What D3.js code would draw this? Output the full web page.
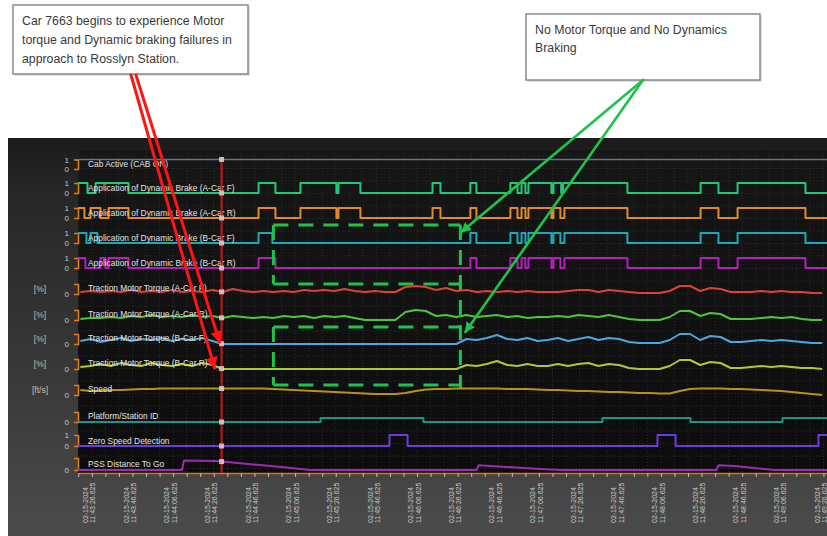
<!DOCTYPE html>
<html>
<head>
<meta charset="utf-8">
<script src="https://cdn.jsdelivr.net/npm/d3@7"></script>
<style>
  html, body { margin: 0; padding: 0; background: #ffffff; }
  svg { display: block; }
</style>
</head>
<body>
<svg id="chart" width="827" height="536"></svg>
<script>
// ---- Recorded event data (time in seconds from 11:43:26.625) ----
const tickTimes = [0, 20, 40, 60, 80, 100, 120, 140, 160, 180, 200, 220, 240, 260, 280, 300, 320, 340, 360];
const tickDate = "02-15-2024";
const tickClock = ["11:43:26.625", "11:43:46.625", "11:44:06.625", "11:44:26.625", "11:44:46.625",
  "11:45:06.625", "11:45:26.625", "11:45:46.625", "11:46:06.625", "11:46:26.625", "11:46:46.625",
  "11:47:06.625", "11:47:26.625", "11:47:46.625", "11:48:06.625", "11:48:26.625", "11:48:46.625",
  "11:49:06.625", "11:49:26.625"];

const seriesNames = [
  "Cab Active (CAB ON)",
  "Application of Dynamic Brake (A-Car F)",
  "Application of Dynamic Brake (A-Car R)",
  "Application of Dynamic Brake (B-Car F)",
  "Application of Dynamic Brake (B-Car R)",
  "Traction Motor Torque (A-Car F)",
  "Traction Motor Torque (A-Car R)",
  "Traction Motor Torque (B-Car F)",
  "Traction Motor Torque (B-Car R)",
  "Speed",
  "Platform/Station ID",
  "Zero Speed Detection",
  "PSS Distance To Go"
];

// digital channels: [time, state] change points
const cabActive = [[-7, 1], [363, 1]];
const brakeACarF = [[-7,1],[-1.5,0],[2.5,1],[18.7,0],[82.7,1],[91,0],[103.3,1],[121,0],[122,1],[132.8,0],[168.3,1],[172.2,0],[186.9,1],[189.9,0],[206.6,1],[210.1,0],[212.1,1],[214,0],[215.5,1],[226.8,0],[227.8,1],[231.6,0],[232.6,1],[264.2,0],[300.2,1],[309,0],[318.4,1],[351.8,0],[363,0]];
const brakeACarR = [[-7,1],[-3,0],[0,1],[4.9,0],[8.9,1],[18.7,0],[82.7,1],[91,0],[103.3,1],[121,0],[122,1],[132.8,0],[168.3,1],[172.2,0],[186.9,1],[189.9,0],[206.6,1],[210.1,0],[212.1,1],[214,0],[215.5,1],[226.8,0],[227.8,1],[231.2,0],[233.2,1],[264.2,0],[300.2,1],[309,0],[318.4,1],[351.8,0],[363,0]];
const brakeBCarF = [[-7,1],[-2,0],[0,1],[3.4,0],[82.7,1],[89.5,0],[186.9,1],[189.9,0],[206.6,1],[210.1,0],[212.1,1],[214,0],[215.5,1],[226.8,0],[227.8,1],[231.2,0],[233.2,1],[264.2,0],[300.2,1],[309,0],[318.4,1],[351.8,0],[363,0]];
const brakeBCarR = [[-7,1],[-2.5,0],[4.9,1],[7.4,0],[8.9,1],[18.7,0],[82.7,1],[91,0],[186.9,1],[189.9,0],[206.6,1],[210.1,0],[212.1,1],[214,0],[215.5,1],[226.8,0],[227.8,1],[231.2,0],[233.2,1],[264.2,0],[300.2,1],[309,0],[318.4,1],[351.8,0],[363,0]];
const platformStationId = [[-7,0],[113.2,4],[163.8,0],[251.9,4],[295.2,0],[340.5,4],[363,4]];
const zeroSpeedDetect = [[-7,0],[147.1,1],[156,0],[279,1],[287.9,0],[358.2,1],[363,1]];

// analog channels sampled every 5 s
const sampleTimes = [-5,0,5,10,15,20,25,30,35,40,45,50,55,60,65,70,75,80,85,90,95,100,105,110,115,120,125,130,135,140,145,150,155,160,165,170,175,180,185,190,195,200,205,210,215,220,225,230,235,240,245,250,255,260,265,270,275,280,285,290,295,300,305,310,315,320,325,330,335,340,345,350,355,360];
const torqueACarF = [8,12,8,12,8,16,8,12,8,16, 8,12,8,16,8,20,12,8,12,8, 12,8,16,12,16,12,20,12,8,12, 8,8,28,32,28,16,24,12,16,8, 12,8,12,8,12,8,8,8,12,16, 16,8,16,12,8,4,4,4,12,32, 32,12,24,20,8,8,8,12,8,12, 8,8,4,4];
const torqueACarR = [4,8,8,12,8,16,12,20,12,16, 12,20,12,16,8,16,12,8,12,8, 16,12,16,8,16,12,16,8,0,0, 0,0,32,40,36,16,20,12,20,12, 16,20,12,16,8,12,12,16,12,20, 16,12,20,12,4,0,0,0,12,36, 36,16,28,24,4,4,4,8,12,8, 12,4,0,0];
const torqueBCarF = [12,20,8,16,24,12,20,16,24,12, 20,16,24,12,0,0,0,0,0,0, 0,0,0,0,0,0,0,0,0,0, 0,0,0,0,0,0,0,0,20,16, 24,36,20,16,24,12,16,24,12,20, 28,16,24,20,8,4,4,4,16,40, 40,16,32,28,8,8,12,16,12,16, 12,8,4,4];
const torqueBCarR = [8,12,20,12,24,16,12,24,16,12, 20,12,24,16,0,0,0,0,0,0, 0,0,0,0,0,0,0,0,0,0, 0,0,0,0,0,0,0,0,16,12, 20,32,16,12,20,12,12,20,12,20, 24,12,20,16,4,0,0,0,12,36, 36,16,28,24,4,4,8,12,8,12, 8,4,4,0];
const speedFtS = [20,16,16,20,20,22,24,24,26,26, 26,26,26,26,26,26,26,26,26,24, 22,20,18,16,14,12,10,8,6,4, 4,4,8,16,22,24,24,26,26,26, 26,26,24,24,24,22,20,20,18,16, 16,14,12,12,10,8,8,6,6,16, 24,26,26,26,24,24,22,20,18,16, 12,8,4,0];
const pssDistanceToGo = [[-7,0],[45,0],[46,2000],[62,1850],[94,600],[108,0],[190,0],[191,1000],[221,200],[231,0],[308,0],[309,1000],[317,850],[336,0],[363,0]];

const eventTime = 64.5;
const noTractionWindow = [90, 182];
const noteFailure = ["Car 7663 begins to experience Motor", "torque and Dynamic braking failures in", "approach to Rosslyn Station."];
const noteNoBraking = ["No Motor Torque and No Dynamics", "Braking"];

// ---- Layout ----
const W = 827, H = 536;
const plot = { left: 78, right: 827, top: 150, bottom: 473 };
const svg = d3.select("#chart");
const defs = svg.append("defs");

const x = d3.scaleLinear().domain([-6.15, 362.4]).range([plot.left, plot.right]);
const zip = vals => vals.map((v, i) => [sampleTimes[i], v]);

const rows = [
  { name: seriesNames[0],  data: cabActive,  step: true, color: "#5a7896", zero: 169, top: 159.5, domain: [0, 1], ticks: [0, 1], sw: 1.6 },
  { name: seriesNames[1],  data: brakeACarF, step: true, color: "#22c97a", zero: 193, top: 183, domain: [0, 1], ticks: [0, 1] },
  { name: seriesNames[2],  data: brakeACarR, step: true, color: "#e08a2c", zero: 218, top: 208, domain: [0, 1], ticks: [0, 1] },
  { name: seriesNames[3],  data: brakeBCarF, step: true, color: "#1ea7b5", zero: 243, top: 233, domain: [0, 1], ticks: [0, 1] },
  { name: seriesNames[4],  data: brakeBCarR, step: true, color: "#b51fb5", zero: 268, top: 258, domain: [0, 1], ticks: [0, 1] },
  { name: seriesNames[5],  data: zip(torqueACarF), color: "#dc4238", zero: 294, top: 284, domain: [0, 40], ticks: [0], unit: "[%]" },
  { name: seriesNames[6],  data: zip(torqueACarR), color: "#4ec53a", zero: 320, top: 310, domain: [0, 40], ticks: [0], unit: "[%]" },
  { name: seriesNames[7],  data: zip(torqueBCarF), color: "#4da6e0", zero: 344, top: 334, domain: [0, 40], ticks: [0], unit: "[%]" },
  { name: seriesNames[8],  data: zip(torqueBCarR), color: "#a9cc36", zero: 369, top: 359, domain: [0, 40], ticks: [0], unit: "[%]" },
  { name: seriesNames[9],  data: zip(speedFtS),    color: "#b8911c", zero: 395, top: 385, domain: [0, 40], ticks: [0], unit: "[ft/s]" },
  { name: seriesNames[10], data: platformStationId, step: true, color: "#1c948e", zero: 422, top: 412, domain: [0, 10], ticks: [0] },
  { name: seriesNames[11], data: zeroSpeedDetect, step: true, color: "#6b3be3", zero: 446, top: 435, domain: [0, 1], ticks: [0, 1] },
  { name: seriesNames[12], data: pssDistanceToGo, color: "#9b2cb3", zero: 470, top: 458, domain: [0, 2500], ticks: [0] }
];
rows.forEach(r => { r.y = d3.scaleLinear().domain(r.domain).range([r.zero, r.top]); });

// ---- Panel background ----
const bg = defs.append("linearGradient").attr("id", "panelBg").attr("x1", 0).attr("y1", 0).attr("x2", 0).attr("y2", 1);
bg.append("stop").attr("offset", "0%").attr("stop-color", "#1b1b1b");
bg.append("stop").attr("offset", "12%").attr("stop-color", "#262626");
bg.append("stop").attr("offset", "60%").attr("stop-color", "#393939");
bg.append("stop").attr("offset", "100%").attr("stop-color", "#4b4b4b");
const plotBg = defs.append("linearGradient").attr("id", "plotBg").attr("x1", 0).attr("y1", 0).attr("x2", 0).attr("y2", 1);
plotBg.append("stop").attr("offset", "0%").attr("stop-color", "#161616");
plotBg.append("stop").attr("offset", "100%").attr("stop-color", "#0c0c0c");

defs.append("clipPath").attr("id", "plotClip").append("rect")
  .attr("x", plot.left).attr("y", plot.top).attr("width", plot.right - plot.left).attr("height", plot.bottom - plot.top + 2);

svg.append("rect").attr("x", 8).attr("y", 138).attr("width", W - 8).attr("height", H - 138).attr("fill", "url(#panelBg)");
svg.append("rect").attr("x", plot.left).attr("y", plot.top).attr("width", plot.right - plot.left)
  .attr("height", plot.bottom - plot.top).attr("fill", "url(#plotBg)");

// dotted grid
const minorTicks = d3.range(-6, 363, 20 / 3).filter(t => x(t) >= plot.left && x(t) <= plot.right);
const grid = svg.append("g").attr("stroke", "#2b2b2b").attr("stroke-width", 1).attr("stroke-dasharray", "1,2");
grid.selectAll("line.v").data(minorTicks).join("line").attr("class", "v")
  .attr("x1", d => x(d)).attr("x2", d => x(d)).attr("y1", plot.top).attr("y2", plot.bottom);
grid.selectAll("line.h").data(d3.range(plot.top + 6, plot.bottom, 12.5)).join("line").attr("class", "h")
  .attr("x1", plot.left).attr("x2", plot.right).attr("y1", d => d).attr("y2", d => d);

// ---- Per-channel axes and unit labels ----
rows.forEach(r => {
  const ax = svg.append("g").attr("transform", `translate(${plot.left},0)`)
    .call(d3.axisLeft(r.y).tickValues(r.ticks).tickSizeInner(3).tickSizeOuter(4).tickPadding(6).tickFormat(d3.format("d")));
  ax.select(".domain").attr("stroke", "#e07b1a").attr("stroke-width", 1.6);
  ax.selectAll(".tick line").attr("stroke", "#e07b1a");
  ax.selectAll(".tick text").attr("fill", "#c4c4c4").attr("font-size", 8).attr("font-family", "Liberation Sans, Arial, sans-serif");
  if (r.unit) {
    svg.append("text").attr("x", 40).attr("y", r.zero - 2).attr("text-anchor", "middle")
      .attr("font-family", "Liberation Sans, Arial, sans-serif").attr("font-size", 8.5).attr("fill", "#cbbfa6").text(r.unit);
  }
});

// ---- Time axis ----
const xAxis = svg.append("g").attr("transform", `translate(0,${plot.bottom})`)
  .call(d3.axisBottom(x).tickValues(minorTicks).tickSize(4).tickSizeOuter(0).tickFormat(""));
xAxis.select(".domain").attr("stroke", "#d9731f").attr("stroke-width", 1.6);
xAxis.selectAll(".tick line").attr("stroke", "#bdbdbd").attr("stroke-width", 1);

const tl = svg.append("g").attr("font-family", "Liberation Sans, Arial, sans-serif").attr("font-size", 7).attr("fill", "#c8c8c8");
tickTimes.forEach((t, i) => {
  const g = tl.append("text").attr("transform", `translate(${x(t)},523) rotate(-90)`).attr("text-anchor", "start");
  g.append("tspan").attr("x", 0).attr("y", -5).attr("dominant-baseline", "central").text(tickDate);
  g.append("tspan").attr("x", 0).attr("y", 2.5).attr("dominant-baseline", "central").text(tickClock[i]);
});

// ---- Traces ----
const traces = svg.append("g").attr("clip-path", "url(#plotClip)");
rows.forEach(r => {
  const line = d3.line().x(d => x(d[0])).y(d => r.y(d[1])).curve(r.step ? d3.curveStepAfter : d3.curveLinear);
  traces.append("path").datum(r.data).attr("d", line).attr("fill", "none")
    .attr("stroke", r.color).attr("stroke-width", r.sw || 2).attr("stroke-linejoin", "round");
});

// channel names
const names = svg.append("g").attr("font-family", "Liberation Sans, Arial, sans-serif").attr("font-size", 8.4).attr("fill", "#e4e4e4");
rows.forEach(r => {
  const digital = r.ticks.length === 2;
  const yy = digital ? (r.y(0) + r.y(1)) / 2 + 3 : r.y(0) - 3;
  names.append("text").attr("x", 88).attr("y", yy).text(r.name);
});

// ---- Event cursor ----
svg.append("line").attr("x1", x(eventTime)).attr("x2", x(eventTime)).attr("y1", 157).attr("y2", plot.bottom)
  .attr("stroke", "#b8191b").attr("stroke-width", 2.2);
const valueAt = (r, t) => {
  const i = d3.bisector(d => d[0]).right(r.data, t) - 1;
  if (r.step) return r.data[Math.max(0, i)][1];
  const a = r.data[Math.max(0, i)], b = r.data[Math.min(r.data.length - 1, i + 1)];
  return b[0] === a[0] ? a[1] : a[1] + (b[1] - a[1]) * (t - a[0]) / (b[0] - a[0]);
};
rows.forEach(r => {
  const cy = r.y(valueAt(r, eventTime));
  svg.append("rect").attr("x", x(eventTime) - 2.5).attr("y", cy - 2.5).attr("width", 5).attr("height", 5)
    .attr("fill", "#d8d8d8").attr("fill-opacity", 0.85);
});

// ---- No-traction window outlines ----
const gx0 = x(noTractionWindow[0]), gx1 = x(noTractionWindow[1]);
const box1 = [rows[3].y(1) - 8, rows[4].y(0) + 16];
const box2 = [rows[7].y(0) - 17, rows[8].y(0) + 16];
const dash = svg.append("g").attr("stroke", "#1fc24a").attr("stroke-width", 3).attr("stroke-dasharray", "15,10").attr("fill", "none");
[box1, box2].forEach(b => {
  dash.append("line").attr("x1", gx0).attr("x2", gx1).attr("y1", b[0]).attr("y2", b[0]);
  dash.append("line").attr("x1", gx0).attr("x2", gx1).attr("y1", b[1]).attr("y2", b[1]);
  dash.append("line").attr("x1", gx0).attr("x2", gx0).attr("y1", b[0]).attr("y2", b[1]);
});
dash.append("line").attr("x1", gx1).attr("x2", gx1).attr("y1", box1[0]).attr("y2", box2[1] + 3);

// ---- Callouts ----
function arrowHead(id, color) {
  defs.append("marker").attr("id", id).attr("viewBox", "0 0 10 10").attr("refX", 9).attr("refY", 5)
    .attr("markerWidth", 4).attr("markerHeight", 4).attr("orient", "auto")
    .append("path").attr("d", "M0,0 L10,5 L0,10 Z").attr("fill", color);
}
arrowHead("headRed", "#ff1414");
arrowHead("headGreen", "#1fc24a");

function note(bx, by, bw, bh, lines, lineGap) {
  svg.append("rect").attr("x", bx + 1.5).attr("y", by + 1.5).attr("width", bw).attr("height", bh).attr("fill", "#c8c8c8");
  svg.append("rect").attr("x", bx).attr("y", by).attr("width", bw).attr("height", bh)
    .attr("fill", "#ffffff").attr("stroke", "#8a8a8a").attr("stroke-width", 1.5);
  const t = svg.append("text").attr("font-family", "Liberation Sans, Arial, sans-serif").attr("font-size", 12.3).attr("fill", "#3a3a3a");
  lines.forEach((s, i) => t.append("tspan").attr("x", bx + 9).attr("y", by + 20 + i * lineGap).text(s));
}
const n1 = { x: 13, y: 5, w: 235, h: 69 };
const n2 = { x: 526, y: 14, w: 234, h: 66 };
note(n1.x, n1.y, n1.w, n1.h, noteFailure, 19);
note(n2.x, n2.y, n2.w, n2.h, noteNoBraking, 18);

const red = svg.append("g").attr("stroke", "#ff1414").attr("stroke-width", 3).attr("stroke-linecap", "round");
red.append("line").attr("x1", n1.x + 123).attr("y1", n1.y + n1.h + 1)
  .attr("x2", x(eventTime) - 2).attr("y2", rows[7].y(0) - 2).attr("marker-end", "url(#headRed)");
red.append("line").attr("x1", n1.x + 118).attr("y1", n1.y + n1.h + 1)
  .attr("x2", x(eventTime) - 7).attr("y2", rows[8].y(0) - 1).attr("marker-end", "url(#headRed)");

const green = svg.append("g").attr("stroke", "#1fc24a").attr("stroke-width", 2.6).attr("stroke-linecap", "round");
green.append("line").attr("x1", n2.x + 117).attr("y1", n2.y + n2.h)
  .attr("x2", gx1 + 1).attr("y2", box1[0] + 7).attr("marker-end", "url(#headGreen)");
green.append("line").attr("x1", n2.x + 117).attr("y1", n2.y + n2.h)
  .attr("x2", gx1 + 5).attr("y2", box2[0] + 5).attr("marker-end", "url(#headGreen)");
</script>
</body>
</html>
